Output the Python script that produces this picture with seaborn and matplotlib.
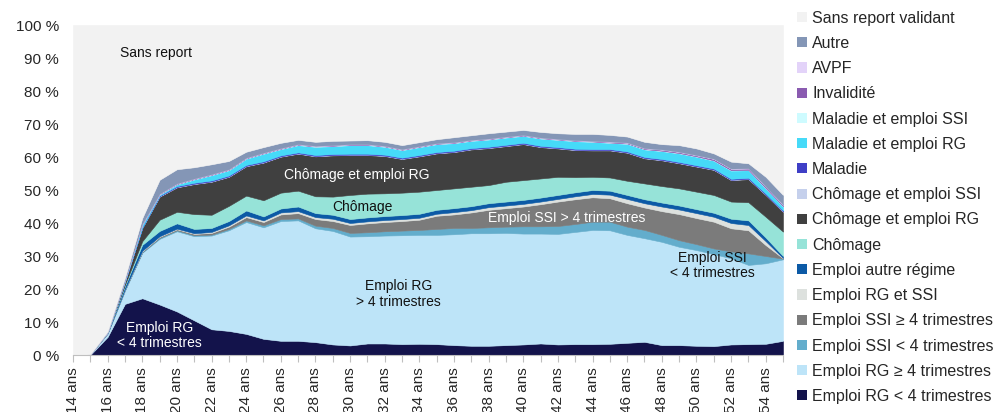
import matplotlib
matplotlib.use('Agg')
import matplotlib.pyplot as plt
from matplotlib.patches import Patch
from matplotlib.ticker import MultipleLocator
import numpy as np
import pandas as pd
import seaborn as sns

# Ages (x axis)
ages = list(range(14, 56))

# Share of each status by age, in %, bottom of the stack first
emploi_rg_lt4 = [0, 0, 5.5, 15.5, 17.2, 15.3, 13.2, 10.5, 7.8, 7.3, 6.4, 4.9, 4.3, 4.3, 3.9, 3.2, 2.9, 3.5, 3.5, 3.3, 3.4,
                 3.3, 3.0, 2.8, 2.8, 3.0, 3.2, 3.5, 3.2, 3.3, 3.3, 3.4, 3.7, 4.0, 3.0, 3.0, 2.8, 2.7, 3.2, 3.3, 3.4, 4.3]
emploi_rg_ge4 = [0, 0.2, 1.0, 4.0, 13.8, 19.9, 24.3, 25.5, 28.4, 30.5, 33.9, 33.8, 36.3, 36.5, 34.5, 34.4, 33.0, 32.5, 32.7,
                 33.0, 33.0, 33.1, 33.6, 34.1, 34.1, 34.0, 33.6, 33.3, 33.5, 34.0, 34.6, 34.4, 32.7, 31.4, 31.3, 29.8,
                 29.0, 27.9, 26.1, 24.0, 24.4, 24.7]
emploi_ssi_lt4 = [0, 0, 0.1, 0.2, 0.2, 0.3, 0.3, 0.3, 0.3, 0.4, 0.5, 0.6, 0.6, 0.6, 0.8, 0.9, 1.1, 1.2, 1.3, 1.4, 1.5,
                  1.8, 1.9, 1.6, 1.8, 1.9, 2.2, 2.2, 2.4, 2.4, 2.5, 2.6, 2.5, 2.5, 2.1, 2.0, 1.8, 1.7, 2.1, 3.5, 2.2, 0.2]
emploi_ssi_ge4 = [0, 0, 0, 0.1, 0.2, 0.3, 0.3, 0.4, 0.5, 0.7, 1.0, 1.0, 1.4, 1.6, 2.0, 2.1, 2.4, 2.7, 2.8, 2.9, 3.1,
                  4.0, 4.1, 4.7, 5.3, 5.6, 6.0, 6.7, 7.4, 7.5, 7.4, 7.1, 7.1, 6.8, 7.2, 7.9, 7.9, 8.1, 7.0, 7.0, 3.3, 0.1]
emploi_rg_ssi = [0, 0, 0, 0.1, 0.2, 0.2, 0.2, 0.2, 0.3, 0.4, 0.5, 0.5, 0.6, 0.6, 0.6, 0.7, 0.6, 0.6, 0.6, 0.6, 0.6,
                 0.6, 0.7, 0.7, 0.8, 0.8, 0.8, 0.8, 0.8, 0.9, 1.0, 1.1, 1.3, 1.3, 1.4, 1.4, 1.5, 1.5, 1.6, 1.6, 1.2, 0.1]
emploi_autre = [0, 0, 0.2, 1.0, 1.8, 1.6, 1.6, 1.3, 1.2, 1.3, 1.5, 1.2, 1.2, 1.4, 1.2, 1.2, 1.2, 1.2, 1.2, 1.2, 1.2,
                1.2, 1.2, 1.2, 1.2, 1.2, 1.2, 1.2, 1.2, 1.2, 1.2, 1.2, 1.2, 1.2, 1.2, 1.2, 1.2, 1.2, 1.3, 1.4, 1.1, 0.6]
chomage = [0, 0, 0.1, 0.4, 1.1, 3.4, 3.5, 4.5, 4.0, 4.6, 4.5, 4.9, 4.8, 4.8, 5.1, 5.5, 7.3, 7.2, 6.9, 6.8, 6.7,
           6.0, 6.0, 5.9, 5.5, 6.0, 6.0, 5.8, 5.5, 4.6, 4.0, 4.0, 4.3, 4.8, 5.0, 5.2, 5.3, 5.4, 5.2, 5.5, 6.3, 7.4]
chomage_rg = [0, 0, 0, 1.0, 4.0, 7.0, 7.4, 9.1, 10.0, 8.8, 8.9, 11.4, 10.9, 11.2, 12.1, 12.5, 12.1, 11.7, 11.3, 10.2,
              10.7, 11.1, 11.0, 11.3, 11.2, 10.8, 10.9, 9.5, 8.6, 8.2, 8.0, 8.2, 8.5, 7.6, 7.8, 7.6, 7.6, 7.6, 6.5,
              7.0, 6.6, 6.0]
chomage_ssi = [0, 0, 0, 0, 0.1, 0.1, 0.1, 0.1, 0.1, 0.1, 0.1, 0.1, 0.1, 0.1, 0.1, 0.1, 0.1, 0.1, 0.1, 0.1, 0.1,
               0.1, 0.1, 0.1, 0.1, 0.1, 0.1, 0.1, 0.1, 0.1, 0.1, 0.1, 0.1, 0.1, 0.1, 0.1, 0.1, 0.1, 0.1, 0.1, 0.1, 0.1]
maladie = [0, 0, 0, 0, 0.1, 0.2, 0.3, 0.3, 0.3, 0.3, 0.3, 0.3, 0.3, 0.3, 0.3, 0.3, 0.3, 0.3, 0.3, 0.3, 0.3,
           0.3, 0.3, 0.3, 0.3, 0.3, 0.3, 0.3, 0.3, 0.3, 0.3, 0.3, 0.3, 0.3, 0.3, 0.3, 0.3, 0.3, 0.3, 0.3, 0.3, 0.3]
maladie_rg = [0, 0, 0, 0.4, 0.8, 0.3, 0.5, 1.0, 1.6, 1.6, 1.9, 2.3, 1.9, 2.2, 2.5, 2.4, 2.6, 2.6, 2.4, 2.3, 2.4,
              2.4, 2.3, 2.2, 2.2, 2.2, 2.1, 2.2, 2.2, 2.3, 2.2, 1.9, 2.3, 2.3, 2.4, 2.6, 2.6, 2.4, 2.5, 2.3, 1.6, 1.2]
maladie_ssi = [0, 0, 0, 0, 0.1, 0.1, 0.1, 0.1, 0.1, 0.1, 0.1, 0.1, 0.1, 0.1, 0.1, 0.1, 0.1, 0.1, 0.1, 0.1, 0.1,
               0.1, 0.1, 0.1, 0.1, 0.1, 0.1, 0.1, 0.1, 0.1, 0.1, 0.1, 0.1, 0.1, 0.1, 0.1, 0.1, 0.1, 0.1, 0.1, 0.1, 0.1]
invalidite = [0, 0, 0, 0, 0.1, 0.1, 0.1, 0.1, 0.1, 0.1, 0.1, 0.1, 0.1, 0.1, 0.1, 0.1, 0.1, 0.1, 0.1, 0.1, 0.1,
              0.1, 0.1, 0.1, 0.1, 0.1, 0.1, 0.1, 0.1, 0.1, 0.1, 0.2, 0.2, 0.2, 0.3, 0.3, 0.3, 0.4, 0.4, 0.4, 0.4, 0.4]
avpf = [0, 0, 0, 0, 0.1, 0.1, 0.1, 0.1, 0.1, 0.1, 0.1, 0.1, 0.1, 0.1, 0.1, 0.1, 0.1, 0.1, 0.1, 0.1, 0.1,
        0.1, 0.1, 0.1, 0.1, 0.1, 0.1, 0.1, 0.1, 0.1, 0.1, 0.1, 0.1, 0.1, 0.1, 0.1, 0.1, 0.1, 0.1, 0.1, 0.1, 0.1]
autre = [0, 0, 0.2, 0.7, 1.7, 4.2, 4.3, 3.4, 3.0, 2.5, 1.8, 1.7, 1.6, 1.3, 1.2, 1.3, 1.1, 1.2, 1.2, 1.2, 1.2,
         1.2, 1.5, 1.4, 1.6, 1.5, 1.5, 1.7, 1.7, 1.9, 2.1, 2.0, 1.8, 1.9, 1.6, 2.0, 2.0, 1.6, 2.1, 1.5, 2.9, 2.9]

labels = ["Emploi RG < 4 trimestres", "Emploi RG ≥ 4 trimestres", "Emploi SSI < 4 trimestres",
          "Emploi SSI ≥ 4 trimestres", "Emploi RG et SSI", "Emploi autre régime", "Chômage",
          "Chômage et emploi RG", "Chômage et emploi SSI", "Maladie", "Maladie et emploi RG",
          "Maladie et emploi SSI", "Invalidité", "AVPF", "Autre", "Sans report validant"]
colors = ["#13134b", "#bde4f8", "#63adcc", "#7b7b7b", "#dde1de", "#0c5aa6", "#96e3d8", "#404040",
          "#c5d0ec", "#3f3fc6", "#46daf8", "#cefbff", "#8a5bb0", "#e3d3f9", "#8496b6", "#f2f2f2"]

df = pd.DataFrame({
    labels[0]: emploi_rg_lt4, labels[1]: emploi_rg_ge4, labels[2]: emploi_ssi_lt4,
    labels[3]: emploi_ssi_ge4, labels[4]: emploi_rg_ssi, labels[5]: emploi_autre,
    labels[6]: chomage, labels[7]: chomage_rg, labels[8]: chomage_ssi, labels[9]: maladie,
    labels[10]: maladie_rg, labels[11]: maladie_ssi, labels[12]: invalidite, labels[13]: avpf,
    labels[14]: autre,
}, index=ages)
# remainder up to 100 %
df[labels[15]] = 100 - df.sum(axis=1)

sns.set_style("white")
plt.rcParams['font.family'] = ['Liberation Sans', 'DejaVu Sans']

fig = plt.figure(figsize=(10, 4.12), dpi=100)
ax = fig.add_axes([0.073, 0.1383, 0.71, 0.801])

ax.stackplot(df.index, *[df[c].values for c in labels], colors=colors,
             linewidth=0.4, edgecolor='face')

ax.set_xlim(14, 55)
ax.set_ylim(0, 100)
ax.set_yticks(range(0, 101, 10))
ax.set_yticklabels([f"{v} %" for v in range(0, 101, 10)], fontsize=11)
ax.set_xticks(ages[::2])
ax.set_xticklabels([f"{a} ans" for a in ages[::2]], rotation=90, fontsize=11, va='top')
ax.xaxis.set_minor_locator(MultipleLocator(1))
ax.tick_params(axis='y', length=0, pad=10)
ax.tick_params(axis='x', which='both', direction='out', length=5, color='#bfbfbf', width=0.8, pad=4, bottom=True)
sns.despine(ax=ax, left=True, top=True, right=True)
ax.spines['bottom'].set_color('#bfbfbf')

# annotations
ax.text(16.7, 91.5, "Sans report", fontsize=10, ha='left', va='center', color='#111111')
ax.text(30.4, 54.5, "Chômage et emploi RG", fontsize=10, ha='center', va='center', color='white')
ax.text(30.7, 44.8, "Chômage", fontsize=10, ha='center', va='center', color='#111111')
ax.text(32.8, 18.5, "Emploi RG\n> 4 trimestres", fontsize=10, ha='center', va='center',
        color='#111111', linespacing=1.1)
ax.text(19.0, 5.8, "Emploi RG\n< 4 trimestres", fontsize=10, ha='center', va='center',
        color='white', linespacing=1.1)
ax.text(42.5, 41.5, "Emploi SSI > 4 trimestres", fontsize=10, ha='center', va='center', color='white')
ax.text(50.95, 27.0, "Emploi SSI\n< 4 trimestres", fontsize=10, ha='center', va='center',
        color='#111111', linespacing=1.1)

handles = [Patch(facecolor=c, edgecolor='none') for c in colors][::-1]
fig.legend(handles, labels[::-1], loc='upper left', bbox_to_anchor=(0.797, 0.974),
           frameon=False, fontsize=11.5, handlelength=0.6, handleheight=0.6,
           handletextpad=0.35, labelspacing=0.64, borderaxespad=0, borderpad=0)

fig.savefig("out.png", dpi=100)
plt.close(fig)
